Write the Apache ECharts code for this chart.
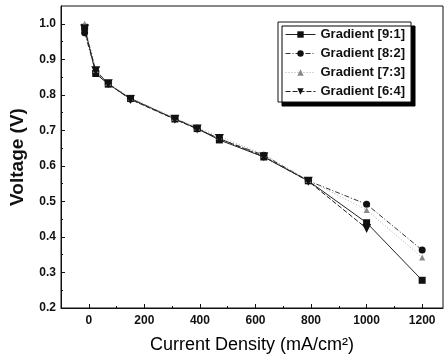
<!DOCTYPE html>
<html>
<head>
<meta charset="utf-8">
<script src="https://cdn.jsdelivr.net/npm/echarts@6/dist/echarts.min.js"></script>
<style>
  html, body { margin: 0; padding: 0; background: #fff; }
  #chart { width: 445px; height: 359px; }
</style>
</head>
<body>
<div id="chart"></div>
<script>
// current density (mA/cm2), shared by all runs
var currentDensity = [-15, 25, 70, 150, 310, 390, 470, 630, 790, 1000, 1200];
var grad91 = [0.99, 0.86, 0.83, 0.79, 0.732, 0.705, 0.673, 0.625, 0.558, 0.44, 0.278];
var grad82 = [0.975, 0.865, 0.832, 0.788, 0.733, 0.706, 0.676, 0.63, 0.558, 0.492, 0.363];
var grad73 = [1.0, 0.87, 0.834, 0.792, 0.735, 0.708, 0.683, 0.632, 0.56, 0.476, 0.342];
var grad64 = [0.985, 0.868, 0.831, 0.787, 0.731, 0.704, 0.677, 0.626, 0.557, 0.424];

var xTicks = [0, 200, 400, 600, 800, 1000, 1200];
var xMinorTicks = [100, 300, 500, 700, 900, 1100];
var yTicks = [0.2, 0.3, 0.4, 0.5, 0.6, 0.7, 0.8, 0.9, 1.0];
var yMinorTicks = [0.25, 0.35, 0.45, 0.55, 0.65, 0.75, 0.85, 0.95];

var FONT = '"Liberation Sans", Arial, sans-serif';
var INK = '#111';

function pairs(ys) {
  return ys.map(function (y, i) { return [currentDensity[i], y]; });
}

var chart = echarts.init(document.getElementById('chart'));

var baseX = {
  type: 'value', min: -100, max: 1275, position: 'bottom',
  splitLine: {show: false}
};
var baseY = {
  type: 'value', min: 0.2, max: 1.05, position: 'left',
  splitLine: {show: false}
};

chart.setOption({
  animation: false,
  grid: {
    left: 61, right: 2, top: 6, bottom: 51,
    show: true, borderColor: INK, borderWidth: 1,
    outerBoundsMode: 'none'
  },
  legend: {
    orient: 'vertical',
    left: 278, top: 22,
    padding: [6, 6, 4, 7],
    itemWidth: 30, itemHeight: 8, itemGap: 6,
    backgroundColor: '#fff',
    borderColor: INK, borderWidth: 1,
    shadowColor: '#000', shadowOffsetX: 4, shadowOffsetY: 4, shadowBlur: 0,
    lineStyle: {width: 1},
    textStyle: {fontFamily: FONT, fontWeight: 'bold', fontSize: 13, color: INK},
    data: ['Gradient [9:1]', 'Gradient [8:2]', 'Gradient [7:3]', 'Gradient [6:4]']
  },
  xAxis: [
    Object.assign({}, baseX, {
      name: 'Current Density (mA/cm²)',
      nameLocation: 'middle', nameGap: 28,
      nameTextStyle: {fontFamily: FONT, fontSize: 18, color: '#000'},
      axisLine: {onZero: false, lineStyle: {color: INK, width: 1}},
      axisTick: {inside: true, length: 4, customValues: xTicks, lineStyle: {color: INK}},
      axisLabel: {
        customValues: xTicks, margin: 7,
        fontFamily: FONT, fontWeight: 'bold', fontSize: 12, color: INK,
        formatter: function (v) { return String(v); }
      }
    }),
    Object.assign({}, baseX, {
      axisLine: {show: false, onZero: false},
      axisTick: {inside: true, length: 2, customValues: xMinorTicks, lineStyle: {color: INK}},
      axisLabel: {show: false}
    })
  ],
  yAxis: [
    Object.assign({}, baseY, {
      name: 'Voltage (V)',
      nameLocation: 'middle', nameGap: 34, nameRotate: 90,
      nameTextStyle: {fontFamily: FONT, fontWeight: 'bold', fontSize: 19, color: INK},
      axisLine: {show: true, onZero: false, lineStyle: {color: INK, width: 1}},
      axisTick: {show: true, inside: true, length: 4, customValues: yTicks, lineStyle: {color: INK}},
      axisLabel: {
        customValues: yTicks, margin: 5,
        fontFamily: FONT, fontWeight: 'bold', fontSize: 12, color: INK,
        formatter: function (v) { return v.toFixed(1); }
      }
    }),
    Object.assign({}, baseY, {
      axisLine: {show: false, onZero: false},
      axisTick: {show: true, inside: true, length: 2, customValues: yMinorTicks, lineStyle: {color: INK}},
      axisLabel: {show: false}
    })
  ],
  series: [
    {
      name: 'Gradient [9:1]', type: 'line', data: pairs(grad91),
      symbol: 'rect', symbolSize: 7,
      itemStyle: {color: INK},
      lineStyle: {color: '#222', width: 1, type: 'solid'}
    },
    {
      name: 'Gradient [8:2]', type: 'line', data: pairs(grad82),
      symbol: 'circle', symbolSize: 7,
      itemStyle: {color: INK},
      lineStyle: {color: '#333', width: 1, type: [5, 2, 1, 2]}
    },
    {
      name: 'Gradient [7:3]', type: 'line', data: pairs(grad73),
      symbol: 'triangle', symbolSize: 6,
      itemStyle: {color: '#8a8a8a'},
      lineStyle: {color: '#aaa', width: 1, type: [1, 2]}
    },
    {
      name: 'Gradient [6:4]', type: 'line', data: pairs(grad64),
      symbol: 'path://M0,0 L10,0 L5,10 Z', symbolSize: 9,
      itemStyle: {color: INK},
      lineStyle: {color: '#222', width: 1, type: [5, 2]}
    }
  ]
});
</script>
</body>
</html>
